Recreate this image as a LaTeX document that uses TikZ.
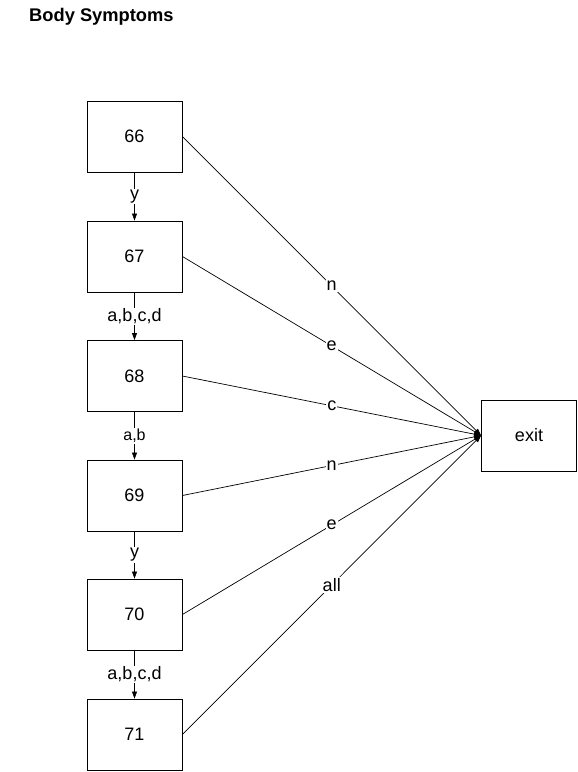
\documentclass[tikz,border=0pt]{standalone}
\usepackage{fontspec}
\setmainfont{Liberation Sans}
\usetikzlibrary{arrows.meta}
\begin{document}
\begin{tikzpicture}[x=1pt,y=-1pt,
  box/.style={draw,line width=0.9pt,minimum width=95pt,minimum height=71pt,inner sep=0pt,font=\fontsize{18}{20}\selectfont},
  conn/.style={line width=0.7pt,-{Triangle[length=7pt,width=5pt]}},
  lbl/.style={fill=white,inner sep=1pt,font=\fontsize{18}{20}\selectfont}]
\useasboundingbox (0,0) rectangle (578,772);
\node[anchor=west,inner sep=0pt,font=\bfseries\fontsize{18.3}{20}\selectfont] (title) at (29,17) {Body Symptoms};
\node[box] (b66) at (134.5,136.5) {66};
\node[box] (b67) at (134.5,256.5) {67};
\node[box] (b68) at (134.5,376) {68};
\node[box] (b69) at (134.5,495.5) {69};
\node[box] (b70) at (134.5,614.5) {70};
\node[box] (b71) at (134.5,734.5) {71};
\node[box] (exit) at (529,435.5) {exit};
\draw[conn] (b66) -- node[lbl]{y} (b67);
\draw[conn] (b67) -- node[lbl]{a,b,c,d} (b68);
\draw[conn] (b68) -- node[lbl,font=\fontsize{16}{18}\selectfont]{a,b} (b69);
\draw[conn] (b69) -- node[lbl]{y} (b70);
\draw[conn] (b70) -- node[lbl]{a,b,c,d} (b71);
\draw[conn] (b66.east) -- node[lbl]{n} (exit.west);
\draw[conn] (b67.east) -- node[lbl]{e} (exit.west);
\draw[conn] (b68.east) -- node[lbl]{c} (exit.west);
\draw[conn] (b69.east) -- node[lbl]{n} (exit.west);
\draw[conn] (b70.east) -- node[lbl]{e} (exit.west);
\draw[conn] (b71.east) -- node[lbl]{all} (exit.west);
\end{tikzpicture}
\end{document}
